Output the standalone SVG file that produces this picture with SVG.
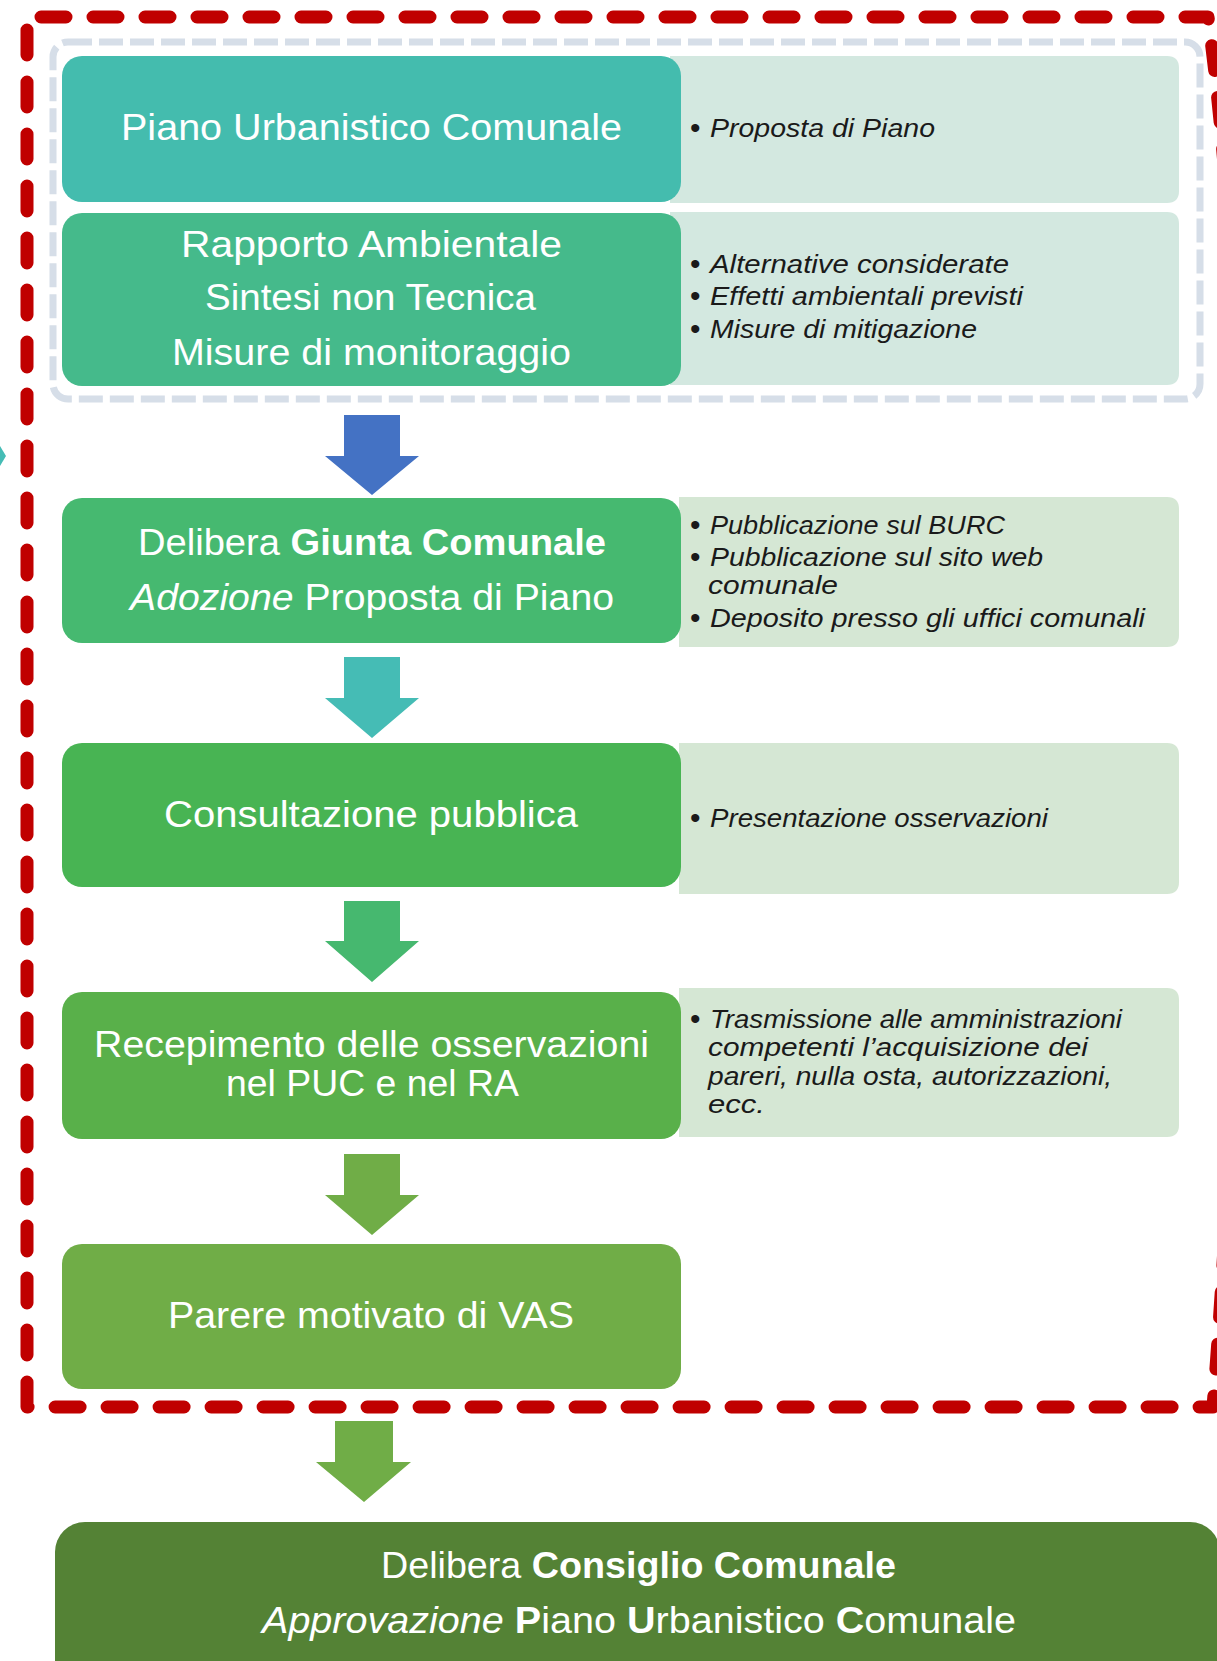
<svg xmlns="http://www.w3.org/2000/svg" width="1217" height="1661" viewBox="0 0 1217 1661">
<style>
.nt{font-family:"Liberation Sans",Arial,sans-serif;font-size:36px;fill:#ffffff;text-anchor:middle}
.pt{font-family:"Liberation Sans",Arial,sans-serif;font-size:25px;font-style:italic;fill:#1a1a1a}
.bl{font-family:"Liberation Sans",Arial,sans-serif;font-size:30px;fill:#1a1a1a}
.b{font-weight:bold}
.i{font-style:italic}
.panelA{fill:#D3E8E0}
.panelB{fill:#D5E7D4}
</style>
<rect width="1217" height="1661" fill="#ffffff"/>
<!-- frames -->
<g id="frames">
<rect x="53" y="42" width="1147" height="357" rx="15" fill="none" stroke="#D6DEE8" stroke-width="7" stroke-dasharray="24 7"/>
<path d="M27,1407 V17 H1208 C1260,400 1245,1000 1213,1407 Z" fill="none" stroke="#C00000" stroke-width="13" stroke-linecap="round" stroke-linejoin="round" stroke-dasharray="25 27"/>
<polygon points="0,446 6,456 0,466" fill="#45BCB5"/>
</g>
<!-- connectors -->
<g id="connectors">
<polygon points="344,415 400,415 400,456 419,456 372,495 325,456 344,456" fill="#4472C4"/>
<polygon points="344,657 400,657 400,698 419,698 372,738 325,698 344,698" fill="#45BCB5"/>
<polygon points="344,901 400,901 400,941 419,941 372,982 325,941 344,941" fill="#46B86F"/>
<polygon points="344,1154 400,1154 400,1195 419,1195 372,1235 325,1195 344,1195" fill="#70AD47"/>
<polygon points="335,1421 393,1421 393,1462 411,1462 364,1502 316,1462 335,1462" fill="#70AD47"/>
</g>
<!-- nodes -->
<g id="node1">
<path class="panelA" d="M670,56 H1167 Q1179,56 1179,68 V191 Q1179,203 1167,203 H670 Z"/>
<rect x="62" y="56" width="619" height="146" rx="20" fill="#44BCAE"/>
<text class="nt" x="371.5" y="140" textLength="501" lengthAdjust="spacingAndGlyphs">Piano Urbanistico Comunale</text>
<text class="bl" x="690" y="138">•</text>
<text class="pt" x="710" y="137" textLength="225" lengthAdjust="spacingAndGlyphs">Proposta di Piano</text>
</g>
<g id="node2">
<path class="panelA" d="M670,212 H1167 Q1179,212 1179,224 V373 Q1179,385 1167,385 H670 Z"/>
<rect x="62" y="213" width="619" height="173" rx="20" fill="#45BA8B"/>
<text class="nt" x="371.5" y="257" textLength="381" lengthAdjust="spacingAndGlyphs">Rapporto Ambientale</text>
<text class="nt" x="370.5" y="310" textLength="331" lengthAdjust="spacingAndGlyphs">Sintesi non Tecnica</text>
<text class="nt" x="371.5" y="365" textLength="399" lengthAdjust="spacingAndGlyphs">Misure di monitoraggio</text>
<text class="bl" x="690" y="274">•</text>
<text class="pt" x="710" y="273" textLength="299" lengthAdjust="spacingAndGlyphs">Alternative considerate</text>
<text class="bl" x="690" y="306">•</text>
<text class="pt" x="710" y="305" textLength="313" lengthAdjust="spacingAndGlyphs">Effetti ambientali previsti</text>
<text class="bl" x="690" y="339">•</text>
<text class="pt" x="710" y="338" textLength="267" lengthAdjust="spacingAndGlyphs">Misure di mitigazione</text>
</g>
<g id="node3">
<path class="panelB" d="M679,497 H1167 Q1179,497 1179,509 V635 Q1179,647 1167,647 H679 Z"/>
<rect x="62" y="498" width="619" height="145" rx="20" fill="#46B970"/>
<text class="nt" x="372" y="555" textLength="468" lengthAdjust="spacingAndGlyphs">Delibera <tspan class="b">Giunta Comunale</tspan></text>
<text class="nt" x="372" y="610" textLength="484" lengthAdjust="spacingAndGlyphs"><tspan class="i">Adozione</tspan> Proposta di Piano</text>
<text class="bl" x="690" y="535">•</text>
<text class="pt" x="710" y="534" textLength="295" lengthAdjust="spacingAndGlyphs">Pubblicazione sul BURC</text>
<text class="bl" x="690" y="567">•</text>
<text class="pt" x="710" y="566" textLength="333" lengthAdjust="spacingAndGlyphs">Pubblicazione sul sito web</text>
<text class="pt" x="708" y="594" textLength="130" lengthAdjust="spacingAndGlyphs">comunale</text>
<text class="bl" x="690" y="628">•</text>
<text class="pt" x="710" y="627" textLength="435" lengthAdjust="spacingAndGlyphs">Deposito presso gli uffici comunali</text>
</g>
<g id="node4">
<path class="panelB" d="M679,743 H1167 Q1179,743 1179,755 V882 Q1179,894 1167,894 H679 Z"/>
<rect x="62" y="743" width="619" height="144" rx="20" fill="#48B453"/>
<text class="nt" x="371" y="827" textLength="414" lengthAdjust="spacingAndGlyphs">Consultazione pubblica</text>
<text class="bl" x="690" y="828">•</text>
<text class="pt" x="710" y="827" textLength="338" lengthAdjust="spacingAndGlyphs">Presentazione osservazioni</text>
</g>
<g id="node5">
<path class="panelB" d="M679,988 H1167 Q1179,988 1179,1000 V1125 Q1179,1137 1167,1137 H679 Z"/>
<rect x="62" y="992" width="619" height="147" rx="20" fill="#59B04A"/>
<text class="nt" x="371.5" y="1057" textLength="555" lengthAdjust="spacingAndGlyphs">Recepimento delle osservazioni</text>
<text class="nt" x="372.5" y="1096" textLength="293" lengthAdjust="spacingAndGlyphs">nel PUC e nel RA</text>
<text class="bl" x="690" y="1029">•</text>
<text class="pt" x="710" y="1028" textLength="412" lengthAdjust="spacingAndGlyphs">Trasmissione alle amministrazioni</text>
<text class="pt" x="708" y="1056" textLength="380" lengthAdjust="spacingAndGlyphs">competenti l’acquisizione dei</text>
<text class="pt" x="708" y="1085" textLength="404" lengthAdjust="spacingAndGlyphs">pareri, nulla osta, autorizzazioni,</text>
<text class="pt" x="708" y="1113" textLength="57" lengthAdjust="spacingAndGlyphs">ecc.</text>
</g>
<g id="node6">
<rect x="62" y="1244" width="619" height="145" rx="20" fill="#70AD47"/>
<text class="nt" x="371" y="1328" textLength="406" lengthAdjust="spacingAndGlyphs">Parere motivato di VAS</text>
</g>
<g id="node7">
<rect x="55" y="1522" width="1165" height="170" rx="30" fill="#548235"/>
<text class="nt" x="638.5" y="1578" textLength="515" lengthAdjust="spacingAndGlyphs">Delibera <tspan class="b">Consiglio Comunale</tspan></text>
<text class="nt" x="639" y="1633" textLength="754" lengthAdjust="spacingAndGlyphs"><tspan class="i">Approvazione</tspan> <tspan class="b">P</tspan>iano <tspan class="b">U</tspan>rbanistico <tspan class="b">C</tspan>omunale</text>
</g>
</svg>
